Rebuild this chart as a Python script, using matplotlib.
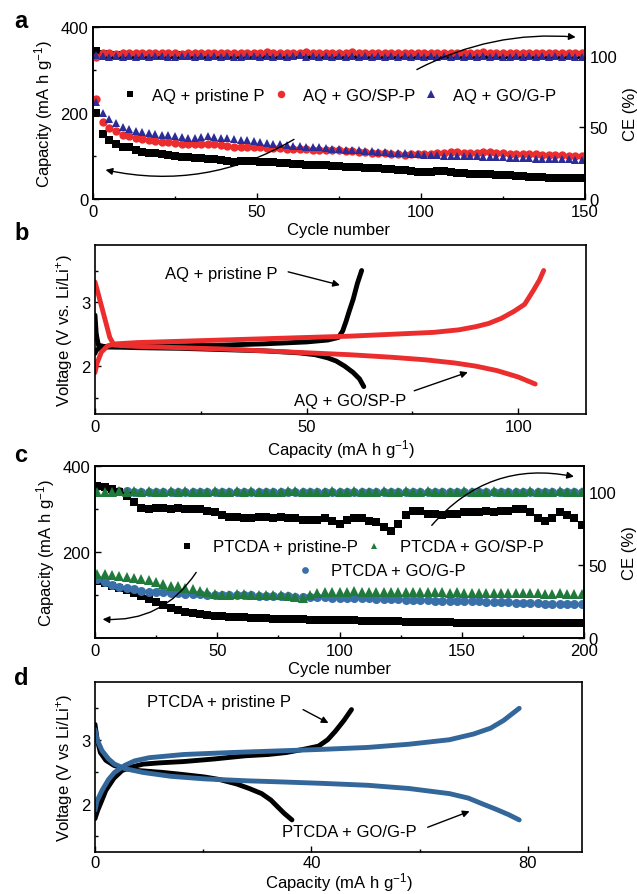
import numpy as np
import matplotlib.pyplot as plt

plt.rcParams['font.family'] = ['Liberation Sans', 'DejaVu Sans']
plt.rcParams['font.size'] = 12
plt.rcParams['mathtext.default'] = 'regular'

# ---------------- panel a: AQ cycling ----------------
a_cycles = np.arange(1, 150, 2)
a_cap_pristine = [200, 152, 138, 128, 122, 120, 115, 110, 106, 106, 104, 102, 100, 98, 97,
                  96, 95, 94, 92, 90, 88, 87, 88, 89, 88, 87, 86, 85, 84, 83,
                  82, 81, 80, 79, 78, 78, 77, 76, 75, 75, 74, 73, 72, 71, 70,
                  69, 68, 67, 66, 63, 62, 63, 64, 65, 63, 61, 60, 59, 58, 57,
                  57, 56, 56, 55, 54, 53, 52, 51, 51, 50, 50, 50, 50, 50, 50]
a_cap_gosp = [233, 180, 165, 157, 150, 146, 143, 140, 138, 135, 133, 132, 131, 129, 128,
              127, 128, 128, 127, 126, 124, 122, 121, 120, 120, 120, 119, 118, 118, 117,
              117, 116, 116, 115, 115, 114, 113, 113, 112, 111, 110, 109, 108, 107, 106,
              105, 104, 103, 104, 105, 105, 105, 106, 108, 110, 109, 107, 106, 107, 109,
              109, 107, 106, 105, 105, 104, 104, 104, 103, 103, 102, 102, 101, 100, 100]
a_cap_gog = [225, 200, 185, 176, 168, 162, 158, 155, 153, 151, 149, 148, 147, 145, 143,
             142, 145, 146, 144, 142, 141, 140, 138, 137, 135, 133, 131, 129, 127, 125,
             124, 123, 122, 121, 120, 118, 117, 116, 115, 114, 113, 112, 111, 110, 109,
             108, 107, 106, 105, 104, 103, 102, 102, 101, 101, 100, 100, 99, 99, 98,
             98, 97, 97, 96, 96, 95, 95, 94, 94, 93, 93, 92, 92, 91, 91]
a_ce_pristine = [103.5, 101.0, 100.6, 100.4, 100.8, 100.5, 100.3, 100.7, 100.5, 100.6, 100.4, 100.8, 100.5, 100.3, 100.6,
                 100.5, 100.7, 100.4, 100.6, 100.5, 100.3, 100.7, 100.6, 100.4, 100.5, 100.8, 100.5, 100.4, 100.6, 100.5,
                 100.3, 100.6, 100.5, 100.7, 100.4, 100.5, 100.6, 100.3, 100.5, 100.7, 100.4, 100.6, 100.5, 100.5, 100.4,
                 100.6, 100.5, 100.7, 100.4, 100.5, 100.3, 100.6, 100.5, 100.8, 100.4, 100.5, 100.6, 100.3, 100.5, 100.7,
                 100.4, 100.5, 100.6, 100.5, 100.3, 100.7, 100.5, 100.4, 100.6, 100.5, 100.5, 100.7, 100.4, 100.6, 100.5]
a_ce_gosp = [99.0, 101.6, 101.9, 101.5, 102.1, 101.7, 101.8, 102.0, 101.6, 101.9, 102.2, 101.7, 101.8, 101.5, 102.0,
             101.8, 101.6, 102.1, 101.9, 101.7, 101.8, 102.0, 101.6, 101.9, 101.8, 101.7, 102.3, 101.8, 101.6, 101.9,
             102.0, 101.7, 102.4, 101.8, 101.6, 101.9, 101.8, 102.0, 101.7, 102.4, 101.8, 101.6, 101.9, 101.7, 102.0,
             101.8, 101.6, 101.9, 102.1, 101.7, 101.8, 101.6, 102.0, 101.9, 101.7, 101.8, 102.1, 101.6, 101.9, 102.5,
             101.8, 101.7, 102.0, 101.8, 101.6, 101.9, 101.8, 102.0, 101.7, 101.9, 101.8, 101.6, 102.0, 101.8, 101.9]
a_ce_gog = [100.8, 99.6, 99.3, 99.5, 99.2, 99.6, 99.4, 99.5, 99.3, 99.6, 99.5, 99.2, 99.4, 99.6, 99.5,
            99.3, 99.5, 99.4, 99.6, 99.2, 99.5, 99.4, 99.3, 99.6, 99.5, 99.4, 99.5, 99.3, 99.6, 99.4,
            99.5, 100.3, 99.4, 99.5, 99.3, 99.6, 99.4, 99.5, 99.2, 99.5, 99.4, 99.6, 99.3, 99.5, 99.4,
            99.5, 99.3, 99.6, 99.4, 99.5, 99.2, 99.5, 99.4, 99.6, 99.3, 99.5, 99.4, 99.5, 99.3, 99.6,
            99.4, 99.5, 98.9, 99.4, 99.6, 99.3, 99.5, 99.4, 99.5, 99.3, 99.6, 99.4, 99.5, 99.3, 99.4]

# ---------------- panel b: AQ voltage profiles ----------------
b_pristine_dis_x = [0, 0.3, 0.8, 2, 5, 10, 20, 30, 40, 48, 52, 55, 57, 59, 61, 62.5, 63.5]
b_pristine_dis_v = [2.8, 2.5, 2.33, 2.31, 2.30, 2.29, 2.28, 2.26, 2.24, 2.21, 2.18, 2.13, 2.08, 2.0, 1.9, 1.8, 1.68]
b_pristine_chg_x = [0, 0.3, 1, 3, 10, 20, 30, 40, 50, 55, 57.5, 58.5, 59.3, 60, 61, 62, 63]
b_pristine_chg_v = [2.2, 2.25, 2.28, 2.3, 2.31, 2.32, 2.33, 2.35, 2.38, 2.41, 2.45, 2.55, 2.7, 2.85, 3.05, 3.3, 3.5]
b_gosp_dis_x = [0, 0.5, 1.5, 2.5, 3.5, 4.5, 10, 20, 30, 40, 50, 60, 70, 78, 85, 90, 95, 100, 104]
b_gosp_dis_v = [3.32, 3.2, 2.95, 2.7, 2.45, 2.33, 2.31, 2.29, 2.27, 2.24, 2.21, 2.18, 2.14, 2.10, 2.05, 2.0, 1.93, 1.83, 1.72]
b_gosp_chg_x = [0, 0.5, 1.5, 3, 5, 10, 20, 30, 40, 50, 60, 70, 80, 86, 90, 93, 96, 99, 101.5, 103.5, 105, 106]
b_gosp_chg_v = [1.9, 2.05, 2.22, 2.32, 2.35, 2.37, 2.39, 2.41, 2.43, 2.45, 2.47, 2.5, 2.53, 2.57, 2.62, 2.67, 2.75, 2.86, 2.97, 3.18, 3.35, 3.5]

# ---------------- panel c: PTCDA cycling ----------------
c_cycles = np.arange(1, 200, 3)
c_cap_pristine = [133, 128, 122, 117, 112, 105, 98, 91, 83, 76,
                  70, 65, 61, 58, 56, 54, 52, 51, 50, 49,
                  48, 47, 46, 46, 45, 45, 44, 44, 44, 43,
                  43, 43, 42, 42, 41, 41, 40, 40, 40, 39,
                  39, 39, 38, 38, 38, 37, 37, 37, 37, 36,
                  36, 36, 36, 36, 35, 35, 35, 35, 35, 35,
                  35, 34, 34, 34, 34, 34, 34]
c_cap_gosp = [150, 148, 146, 144, 141, 139, 137, 134, 130, 126,
              122, 120, 117, 113, 110, 106, 103, 101, 101, 102,
              102, 101, 101, 100, 100, 99, 97, 95, 94, 100,
              104, 106, 107, 108, 108, 109, 108, 108, 108, 107,
              108, 107, 107, 107, 106, 107, 106, 106, 105, 106,
              105, 105, 105, 105, 104, 105, 104, 104, 104, 104,
              104, 103, 103, 104, 103, 103, 103]
c_cap_gog = [138, 130, 124, 119, 116, 113, 110, 108, 107, 106,
             105, 104, 103, 102, 102, 101, 101, 100, 100, 100,
             99, 99, 98, 98, 98, 97, 97, 96, 96, 96,
             95, 95, 94, 94, 93, 93, 92, 92, 91, 91,
             90, 90, 89, 89, 88, 88, 87, 87, 86, 86,
             85, 85, 85, 84, 84, 83, 83, 82, 82, 81,
             81, 80, 80, 79, 79, 78, 78]
c_ce_pristine = [104, 103, 102, 100, 97, 93, 89, 88, 89, 89,
                 88, 89, 88, 88, 88, 87, 86, 84, 83, 83,
                 82, 82, 83, 83, 82, 83, 82, 82, 81, 81,
                 81, 82, 80, 78, 81, 82, 82, 80, 79, 76,
                 73, 78, 84, 87, 87, 85, 85, 84, 85, 85,
                 86, 86, 86, 87, 86, 87, 87, 88, 88, 86,
                 82, 80, 82, 86, 84, 82, 77]
c_ce_gosp = [99.6, 100.1, 99.8, 100.3, 99.9, 100.2, 99.7, 100.4, 100.0, 99.8,
             100.2, 99.9, 100.5, 100.0, 99.7, 100.1, 100.3, 99.8, 100.0, 100.2,
             99.9, 100.4, 99.8, 100.1, 100.0, 99.7, 100.2, 100.3, 99.9, 100.0,
             100.1, 99.8, 100.2, 100.0, 99.9, 100.3, 100.1, 99.8, 100.0, 100.2,
             99.9, 100.1, 100.4, 99.8, 100.0, 100.2, 99.9, 100.1, 100.0, 99.8,
             100.3, 100.0, 99.9, 100.1, 100.2, 99.8, 100.0, 100.1, 99.9, 100.2,
             100.0, 99.8, 100.1, 100.3, 99.9, 100.0, 100.1]
c_ce_gog = [104, 103, 101.5, 100.5, 100.2, 100.0, 100.1, 99.9, 100.0, 100.1,
            100.0, 99.9, 100.1, 100.0, 100.0, 99.9, 100.1, 100.0, 99.9, 100.0,
            100.1, 100.0, 99.9, 100.0, 100.1, 100.0, 100.0, 99.9, 100.1, 100.0,
            99.9, 100.0, 100.1, 100.0, 99.9, 100.0, 100.1, 100.0, 100.0, 99.9,
            100.1, 100.0, 99.9, 100.0, 100.1, 100.0, 100.0, 99.9, 100.1, 100.0,
            99.9, 100.0, 100.1, 100.0, 99.9, 100.0, 100.1, 100.0, 100.0, 99.9,
            100.1, 100.0, 99.9, 100.0, 100.1, 100.0, 100.0]

# ---------------- panel d: PTCDA voltage profiles ----------------
d_pristine_dis_x = [0, 0.4, 1, 2, 3.5, 5, 8, 12.6, 16, 20.2, 23, 26.2, 28.5, 30.8, 32.5, 33.8, 35, 36.4]
d_pristine_dis_v = [3.24, 3.0, 2.8, 2.68, 2.6, 2.56, 2.52, 2.49, 2.46, 2.42, 2.38, 2.31, 2.24, 2.16, 2.06, 1.95, 1.85, 1.75]
d_pristine_chg_x = [0, 0.5, 1, 2, 3.5, 5, 7, 8.9, 12, 16.4, 22, 27.8, 32, 35.3, 38.5, 41.3, 43, 44.4, 46, 47.4]
d_pristine_chg_v = [1.77, 1.9, 2.0, 2.21, 2.4, 2.52, 2.58, 2.62, 2.64, 2.66, 2.7, 2.75, 2.77, 2.8, 2.85, 2.9, 3.0, 3.13, 3.3, 3.47]
d_gog_dis_x = [0, 0.4, 1.3, 2.5, 3.6, 5.5, 8.9, 14, 20.2, 28, 35.3, 42, 50.4, 58, 65.5, 69, 71.6, 74, 76.5, 78.4]
d_gog_dis_v = [3.16, 3.0, 2.83, 2.7, 2.62, 2.55, 2.49, 2.43, 2.39, 2.36, 2.34, 2.32, 2.29, 2.24, 2.16, 2.09, 2.0, 1.92, 1.83, 1.75]
d_gog_chg_x = [0, 0.4, 1.3, 2.5, 3.6, 5.5, 7.3, 10, 16.4, 25, 35.3, 42, 50.4, 58, 65.5, 70, 73.1, 75.5, 78.4]
d_gog_chg_v = [1.9, 2.05, 2.21, 2.38, 2.49, 2.6, 2.67, 2.72, 2.77, 2.8, 2.83, 2.85, 2.88, 2.93, 3.0, 3.09, 3.18, 3.3, 3.49]

RED = '#eb2d2e'
NAVY = '#2c2c98'
GREEN = '#1f7a3c'
CBLUE = '#3a70aa'
DBLUE = '#336699'
CAP_LABEL = r'Capacity (mA h g$^{-1}$)'


def style(ax):
    ax.tick_params(which='both', direction='in', width=1, labelsize=12)
    ax.tick_params(which='major', length=4)
    ax.tick_params(which='minor', length=2.5)
    for s in ax.spines.values():
        s.set_linewidth(1.2)


def arrow(ax, start, end, rad=0.0):
    ax.annotate('', xy=end, xytext=start,
                arrowprops=dict(arrowstyle='-|>', color='k', lw=1, mutation_scale=10,
                                connectionstyle=f'arc3,rad={rad}'))


W, H = 637, 895
fig = plt.figure(figsize=(W / 100, H / 100), dpi=100)

# panel a
ax = fig.add_axes([93 / W, 1 - 200 / H, 492 / W, 172 / H])
ax2 = ax.twinx()
h1, = ax.plot(a_cycles, a_cap_pristine, 's', color='k', ms=5.5, mew=0, label='AQ + pristine P')
h2, = ax.plot(a_cycles, a_cap_gosp, 'o', color=RED, ms=6, mew=0, label='AQ + GO/SP-P')
h3, = ax.plot(a_cycles, a_cap_gog, '^', color=NAVY, ms=6, mew=0, label='AQ + GO/G-P')
ax2.plot(a_cycles, a_ce_pristine, 's', color='k', ms=5.5, mew=0)
ax2.plot(a_cycles, a_ce_gosp, 'o', color=RED, ms=6, mew=0)
ax2.plot(a_cycles, a_ce_gog, '^', color=NAVY, ms=6, mew=0)
ax.set_xlim(0, 150)
ax.set_ylim(0, 400)
ax2.set_ylim(0, 120)
ax.set_xticks([0, 50, 100, 150])
ax.set_xticks([25, 75, 125], minor=True)
ax.set_yticks([0, 200, 400])
ax.set_yticks([100, 300], minor=True)
ax2.set_yticks([0, 50, 100])
ax.set_xlabel('Cycle number', labelpad=2)
ax.set_ylabel(CAP_LABEL)
ax2.set_ylabel('CE (%)')
style(ax)
style(ax2)
ax.legend(handles=[h1, h2, h3], loc='center', bbox_to_anchor=(0.5, 0.6), ncol=3, frameon=False,
          handletextpad=0.8, columnspacing=0.5, handlelength=1.0, fontsize=12, markerscale=0.9)
arrow(ax2, (62, 142 * 0.3), (3, 69 * 0.3), rad=-0.2)
arrow(ax2, (98, 298 * 0.3), (148, 376 * 0.3), rad=-0.15)

# panel b
ax = fig.add_axes([95 / W, 1 - 415 / H, 491 / W, 169 / H])
ax.plot(b_pristine_dis_x, b_pristine_dis_v, color='k', lw=3.5, solid_capstyle='round')
ax.plot(b_pristine_chg_x, b_pristine_chg_v, color='k', lw=3.5, solid_capstyle='round')
ax.plot(b_gosp_dis_x, b_gosp_dis_v, color=RED, lw=3.5, solid_capstyle='round')
ax.plot(b_gosp_chg_x, b_gosp_chg_v, color=RED, lw=3.5, solid_capstyle='round')
ax.set_xlim(0, 116)
ax.set_ylim(1.25, 3.9)
ax.set_xticks([0, 50, 100])
ax.set_xticks([25, 75], minor=True)
ax.set_yticks([2, 3])
ax.set_yticks([1.5, 2.5, 3.5], minor=True)
ax.set_xlabel(CAP_LABEL, labelpad=2)
ax.set_ylabel(r'Voltage (V vs. Li/Li$^{+}$)')
style(ax)
ax.text(16.5, 3.46, 'AQ + pristine P', va='center', fontsize=12)
ax.annotate('', xy=(58.5, 3.26), xytext=(45, 3.49),
            arrowprops=dict(arrowstyle='-|>', color='k', lw=1, mutation_scale=10))
ax.text(47, 1.46, 'AQ + GO/SP-P', va='center', fontsize=12)
ax.annotate('', xy=(88.7, 1.92), xytext=(74.8, 1.6),
            arrowprops=dict(arrowstyle='-|>', color='k', lw=1, mutation_scale=10))

# panel c
ax = fig.add_axes([95 / W, 1 - 639 / H, 489 / W, 172 / H])
ax2 = ax.twinx()
k1, = ax.plot(c_cycles, c_cap_pristine, 's', color='k', ms=6, mew=0, label='PTCDA + pristine-P')
k3, = ax.plot(c_cycles, c_cap_gog, 'o', color=CBLUE, ms=6.5, mew=0, label='PTCDA + GO/G-P')
k2, = ax.plot(c_cycles, c_cap_gosp, '^', color=GREEN, ms=6.5, mew=0, label='PTCDA + GO/SP-P')
ax2.plot(c_cycles, c_ce_gog, 'o', color=CBLUE, ms=6.5, mew=0)
ax2.plot(c_cycles, c_ce_pristine, 's', color='k', ms=6, mew=0)
ax2.plot(c_cycles, c_ce_gosp, '^', color=GREEN, ms=6.5, mew=0)
ax.set_xlim(0, 200)
ax.set_ylim(0, 400)
ax2.set_ylim(0, 117.6)
ax.set_xticks([0, 50, 100, 150, 200])
ax.set_xticks([25, 75, 125, 175], minor=True)
ax.set_yticks([200, 400])
ax.set_yticks([100, 300], minor=True)
ax2.set_yticks([0, 50, 100])
ax.set_xlabel('Cycle number', labelpad=2)
ax.set_ylabel(CAP_LABEL)
ax2.set_ylabel('CE (%)')
style(ax)
style(ax2)
leg = ax.legend(handles=[k1, k2], loc='center', bbox_to_anchor=(0.544, 0.53), ncol=2, frameon=False,
                handletextpad=1.05, columnspacing=0.5, handlelength=1.0, fontsize=12, markerscale=0.75)
ax.add_artist(leg)
ax.legend(handles=[k3], loc='center', bbox_to_anchor=(0.585, 0.39), frameon=False,
          handletextpad=1.1, handlelength=1.0, fontsize=12, markerscale=0.75)
arrow(ax2, (42, 158 * 0.294), (2, 44 * 0.294), rad=-0.3)
arrow(ax2, (137, 257 * 0.294), (197, 374 * 0.294), rad=-0.3)

# panel d
ax = fig.add_axes([95 / W, 1 - 853 / H, 487 / W, 170 / H])
ax.plot(d_pristine_dis_x, d_pristine_dis_v, color='k', lw=3.5, solid_capstyle='round')
ax.plot(d_pristine_chg_x, d_pristine_chg_v, color='k', lw=3.5, solid_capstyle='round')
ax.plot(d_gog_dis_x, d_gog_dis_v, color=DBLUE, lw=3.5, solid_capstyle='round')
ax.plot(d_gog_chg_x, d_gog_chg_v, color=DBLUE, lw=3.5, solid_capstyle='round')
ax.set_xlim(0, 90)
ax.set_ylim(1.25, 3.9)
ax.set_xticks([0, 40, 80])
ax.set_xticks([20, 60], minor=True)
ax.set_yticks([2, 3])
ax.set_yticks([1.5, 2.5, 3.5], minor=True)
ax.set_xlabel(CAP_LABEL, labelpad=0)
ax.set_ylabel(r'Voltage (V vs Li/Li$^{+}$)')
style(ax)
ax.tick_params(axis='x', which='major', pad=2.5)
ax.text(9.6, 3.6, 'PTCDA + pristine P', va='center', fontsize=12)
ax.annotate('', xy=(43.6, 3.24), xytext=(38, 3.49),
            arrowprops=dict(arrowstyle='-|>', color='k', lw=1, mutation_scale=10))
ax.text(34.6, 1.57, 'PTCDA + GO/G-P', va='center', fontsize=12)
ax.annotate('', xy=(69.7, 1.9), xytext=(61, 1.62),
            arrowprops=dict(arrowstyle='-|>', color='k', lw=1, mutation_scale=10))

# panel letters
for letter, y in [('a', 28), ('b', 240), ('c', 462), ('d', 685)]:
    fig.text(14 / W, 1 - y / H, letter, fontsize=17, fontweight='bold', va='baseline')

fig.savefig('out.png', dpi=100)
